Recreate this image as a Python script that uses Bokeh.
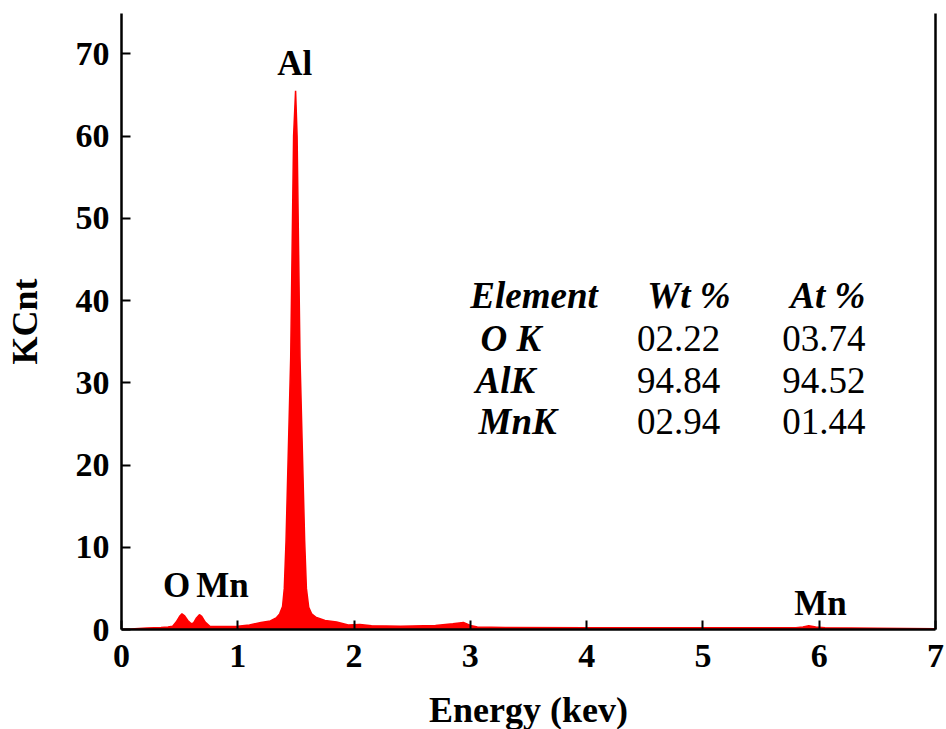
from bokeh.plotting import figure
from bokeh.models import LinearAxis, FixedTicker, Range1d, Label, ColumnDataSource
from bokeh.embed import file_html
from bokeh.resources import INLINE

# --- data ---
energy_kev = [0.00, 0.08, 0.15, 0.22, 0.28, 0.34, 0.40, 0.44, 0.47, 0.50, 0.52, 0.54, 0.57,
              0.60, 0.62, 0.645, 0.67, 0.69, 0.72, 0.76, 0.85, 1.00, 1.10, 1.20, 1.28,
              1.33, 1.36, 1.385, 1.40, 1.415, 1.455, 1.48, 1.497, 1.51, 1.535, 1.575, 1.59,
              1.61, 1.635, 1.67, 1.75, 1.85, 1.95, 2.05, 2.15, 2.40, 2.70, 2.85, 2.94,
              3.00, 3.06, 3.30, 4.00, 5.00, 5.80, 5.86, 5.91, 5.97, 6.05, 6.50, 7.00]
counts_kcnt = [0.00, 0.05, 0.12, 0.18, 0.22, 0.25, 0.30, 0.40, 0.90, 1.60, 1.90, 1.70, 1.10,
               0.70, 0.80, 1.40, 1.80, 1.60, 0.90, 0.40, 0.35, 0.40, 0.55, 0.85, 1.05,
               1.40, 1.90, 2.80, 5.00, 10.8, 33.0, 60.0, 65.5, 60.0, 33.0, 10.8, 5.00,
               2.70, 1.90, 1.50, 1.10, 0.90, 0.55, 0.60, 0.45, 0.40, 0.50, 0.70, 0.85,
               0.50, 0.30, 0.25, 0.20, 0.20, 0.20, 0.30, 0.45, 0.30, 0.20, 0.15, 0.10]

x_ticks = [0, 1, 2, 3, 4, 5, 6, 7]
y_ticks = [0, 10, 20, 30, 40, 50, 60, 70]

peak_labels = ["Al", "O", "Mn", "Mn"]
peak_x = [1.49, 0.473, 0.868, 6.01]
peak_y = [68.8, 5.4, 5.4, 3.2]

table_header = ["Element", "Wt %", "At %"]
table_elements = ["O K", "AlK", "MnK"]
table_wt = ["02.22", "94.84", "02.94"]
table_at = ["03.74", "94.52", "01.44"]

FONT = "Liberation Serif"

p = figure(frame_width=814, frame_height=616, output_backend="svg", toolbar_location=None,
           x_range=Range1d(0, 7), y_range=Range1d(0, 74.9),
           min_border_left=121, min_border_right=10, min_border_top=13, min_border_bottom=10)
p.outline_line_color = None
p.xgrid.visible = False
p.ygrid.visible = False
p.background_fill_color = "white"

src = ColumnDataSource(dict(x=energy_kev, y=counts_kcnt))
p.varea(x="x", y1=0, y2="y", source=src, fill_color="#ff0000")
p.line(x="x", y="y", source=src, line_color="#ff0000", line_width=1.5)

for ax in (p.xaxis[0], p.yaxis[0]):
    ax.axis_line_width = 2.5
    ax.axis_line_color = "black"
    ax.major_tick_in = 9
    ax.major_tick_out = 0
    ax.major_tick_line_width = 2
    ax.minor_tick_line_color = None
    ax.major_label_text_font = FONT
    ax.major_label_text_font_style = "bold"
    ax.major_label_text_font_size = "34px"
    ax.major_label_text_color = "black"
    ax.axis_label_text_font = FONT
    ax.axis_label_text_font_style = "bold"
    ax.axis_label_text_font_size = "36px"
    ax.axis_label_text_color = "black"

p.xaxis[0].ticker = FixedTicker(ticks=x_ticks)
p.yaxis[0].ticker = FixedTicker(ticks=y_ticks)
p.xaxis[0].axis_label = "Energy (kev)"
p.yaxis[0].axis_label = "KCnt"
p.xaxis[0].major_label_standoff = 15
p.yaxis[0].major_label_standoff = 12
p.xaxis[0].axis_label_standoff = 20
p.yaxis[0].axis_label_standoff = 28

right = LinearAxis(ticker=FixedTicker(ticks=[]), axis_line_width=2.5, axis_line_color="black",
                   major_tick_line_color=None, minor_tick_line_color=None,
                   major_label_text_font_size="0px")
p.add_layout(right, "right")

for t, x, y in zip(peak_labels, peak_x, peak_y):
    p.add_layout(Label(x=x, y=y, text=t, text_font=FONT, text_font_style="bold",
                       text_font_size="35px", text_align="center", text_baseline="middle",
                       text_color="black"))

# table
TS = "37px"
row_y = [40.6, 35.4, 30.3, 25.3]
p.add_layout(Label(x=3.0, y=row_y[0], text=table_header[0], text_font=FONT,
                   text_font_style="bold italic", text_font_size=TS,
                   text_baseline="middle", text_color="black"))
p.add_layout(Label(x=5.237, y=row_y[0], text=table_header[1], text_font=FONT,
                   text_font_style="bold italic", text_font_size=TS,
                   text_align="right", text_baseline="middle", text_color="black"))
p.add_layout(Label(x=6.397, y=row_y[0], text=table_header[2], text_font=FONT,
                   text_font_style="bold italic", text_font_size=TS,
                   text_align="right", text_baseline="middle", text_color="black"))
elem_x = [3.087, 3.044, 3.07]
for i in range(3):
    y = row_y[i + 1]
    p.add_layout(Label(x=elem_x[i], y=y, text=table_elements[i], text_font=FONT,
                       text_font_style="bold italic", text_font_size=TS,
                       text_baseline="middle", text_color="black"))
    p.add_layout(Label(x=5.15, y=y, text=table_wt[i], text_font=FONT,
                       text_font_size=TS, text_align="right",
                       text_baseline="middle", text_color="black"))
    p.add_layout(Label(x=6.397, y=y, text=table_at[i], text_font=FONT,
                       text_font_size=TS, text_align="right",
                       text_baseline="middle", text_color="black"))

open("out.html", "w").write(file_html(p, INLINE))
